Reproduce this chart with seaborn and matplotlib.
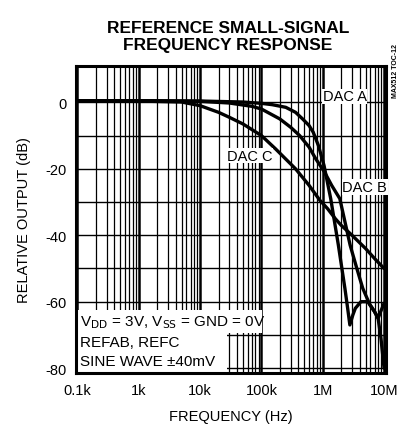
"""
REFERENCE SMALL-SIGNAL FREQUENCY RESPONSE 재현 스크립트
out.png (409x431) 저장
"""
import pandas as pd
import matplotlib.pyplot as plt
import seaborn as sns
from matplotlib.patches import Rectangle
from matplotlib.ticker import FixedLocator, NullFormatter

# ── 데이터 ─────────────────────────────────────────────────────────
FREQ_A = [100, 1e3, 1e4, 5e4, 1e5, 1.5e5, 2.5e5, 3.6e5, 4.7e5, 6e5, 7e5, 8.5e5,
          1.05e6, 1.35e6, 1.8e6, 2.3e6, 2.55e6, 2.77e6, 3.1e6, 3.4e6, 4.2e6,
          5.4e6, 6.2e6, 7e6, 8e6, 8.8e6, 9.5e6, 1e7]
DB_A = [0.5, 0.5, 0.4, 0.1, -0.3, -0.7, -1.5, -3, -5, -7, -9, -13,
        -19, -29, -43, -56, -62, -67, -64, -62, -60,
        -60, -61.5, -63, -65, -63, -61.5, -60.5]

FREQ_B = [100, 1e3, 1e4, 3e4, 7e4, 1e5, 2e5, 3e5, 4.2e5, 6e5, 7.7e5, 1.07e6,
          1.4e6, 1.9e6, 2.8e6, 3.6e6, 4.5e6, 5.9e6, 7e6, 8e6, 8.9e6, 9.5e6, 1e7]
DB_B = [0.5, 0.5, 0.3, -0.2, -1.2, -2, -5, -7.5, -10, -13.5, -17, -21,
        -25, -29, -43, -50, -56, -61, -63, -65, -71, -76, -80]

FREQ_C = [100, 1e3, 5e3, 1e4, 2e4, 3e4, 5e4, 1e5, 1.7e5, 3.6e5, 6e5, 9e5,
          1.2e6, 1.6e6, 2e6, 3e6, 5e6, 7e6, 1e7]
DB_C = [0.5, 0.4, 0.1, -1, -3, -4.5, -6.5, -10, -14, -20, -25, -29.5,
        -32, -35, -37, -40, -44, -47, -50]

X_TICKS = [1e2, 1e3, 1e4, 1e5, 1e6, 1e7]
X_LABELS = ["0.1k", "1k", "10k", "100k", "1M", "10M"]
Y_TICKS = [0, -20, -40, -60, -80]

FONT = ["Liberation Sans", "DejaVu Sans"]


def build_frame():
    parts = []
    for name, f, d in [("DAC A", FREQ_A, DB_A), ("DAC B", FREQ_B, DB_B), ("DAC C", FREQ_C, DB_C)]:
        parts.append(pd.DataFrame({"freq": f, "db": d, "dac": name}))
    return pd.concat(parts, ignore_index=True)


def main():
    sns.set_style("white")
    plt.rcParams["font.family"] = FONT
    plt.rcParams["axes.unicode_minus"] = False
    plt.rcParams["text.color"] = "black"
    plt.rcParams["axes.labelcolor"] = "black"
    plt.rcParams["xtick.color"] = "black"
    plt.rcParams["ytick.color"] = "black"

    df = build_frame()

    fig = plt.figure(figsize=(4.09, 4.31), dpi=100)
    ax = fig.add_axes([0.186, 0.132, 0.758, 0.713])

    sns.lineplot(data=df, x="freq", y="db", hue="dac", palette=["black"] * 3,
                 estimator=None, sort=False, legend=False, linewidth=2.4, ax=ax, zorder=3)

    ax.set_xscale("log")
    ax.set_xlim(95, 1.08e7)
    ax.set_ylim(-81.5, 11)

    # 그리드: 10 dB 간격 수평선, 로그 세부 수직선
    minor_x = [m * 10 ** e for e in range(2, 7) for m in range(2, 10)]
    ax.xaxis.set_major_locator(FixedLocator(X_TICKS))
    ax.xaxis.set_minor_locator(FixedLocator(minor_x))
    ax.xaxis.set_minor_formatter(NullFormatter())
    ax.set_xticks(X_TICKS)
    ax.set_xticklabels(X_LABELS)
    ax.set_yticks(Y_TICKS)
    ax.yaxis.set_minor_locator(FixedLocator([-70, -50, -30, -10]))
    ax.grid(which="major", axis="x", color="black", linewidth=1.8)
    ax.grid(which="minor", axis="x", color="black", linewidth=0.9)
    ax.grid(which="both", axis="y", color="black", linewidth=1.0)
    ax.set_axisbelow(True)
    ax.tick_params(which="both", length=0, labelsize=10.5, pad=7)

    for sp in ax.spines.values():
        sp.set_linewidth(2.2)
        sp.set_color("black")

    ax.set_xlabel("FREQUENCY (Hz)", fontsize=10.5, labelpad=9)
    ax.set_ylabel("RELATIVE OUTPUT (dB)", fontsize=10.5, labelpad=10)

    # 곡선 라벨
    box = dict(facecolor="white", edgecolor="none", pad=0.5)
    ax.text(1.0e6, 1.8, "DAC A", fontsize=10.5, va="center", ha="left", bbox=box, zorder=4)
    ax.text(2.76e4, -16, "DAC C", fontsize=10.5, va="center", ha="left", bbox=box, zorder=4)
    ax.text(2.1e6, -25.5, "DAC B", fontsize=10.5, va="center", ha="left", bbox=box, zorder=4)

    # 조건 텍스트 (흰 배경)
    ax.add_patch(Rectangle((0, 0.13), 0.6, 0.075, transform=ax.transAxes,
                           facecolor="white", edgecolor="none", zorder=2.5))
    ax.add_patch(Rectangle((0, 0), 0.487, 0.13, transform=ax.transAxes,
                           facecolor="white", edgecolor="none", zorder=2.5))
    ax.text(0.013, 0.166, r"V$_{\rm DD}$ = 3V, V$_{\rm SS}$ = GND = 0V",
            transform=ax.transAxes, fontsize=11, va="center", ha="left", zorder=4)
    ax.text(0.013, 0.101, "REFAB, REFC", transform=ax.transAxes,
            fontsize=11, va="center", ha="left", zorder=4)
    ax.text(0.013, 0.039, "SINE WAVE \u00b140mV", transform=ax.transAxes,
            fontsize=11, va="center", ha="left", zorder=4)

    fig.text(0.557, 0.914, "REFERENCE SMALL-SIGNAL\nFREQUENCY RESPONSE",
             ha="center", va="center", fontsize=12.5, fontweight="bold", linespacing=1.2)
    fig.text(0.968, 0.835, "MAX512 TOC-12", rotation=90, ha="center", va="center",
             fontsize=5, fontweight="bold")

    fig.savefig("out.png", dpi=100)
    plt.close(fig)


if __name__ == "__main__":
    main()
